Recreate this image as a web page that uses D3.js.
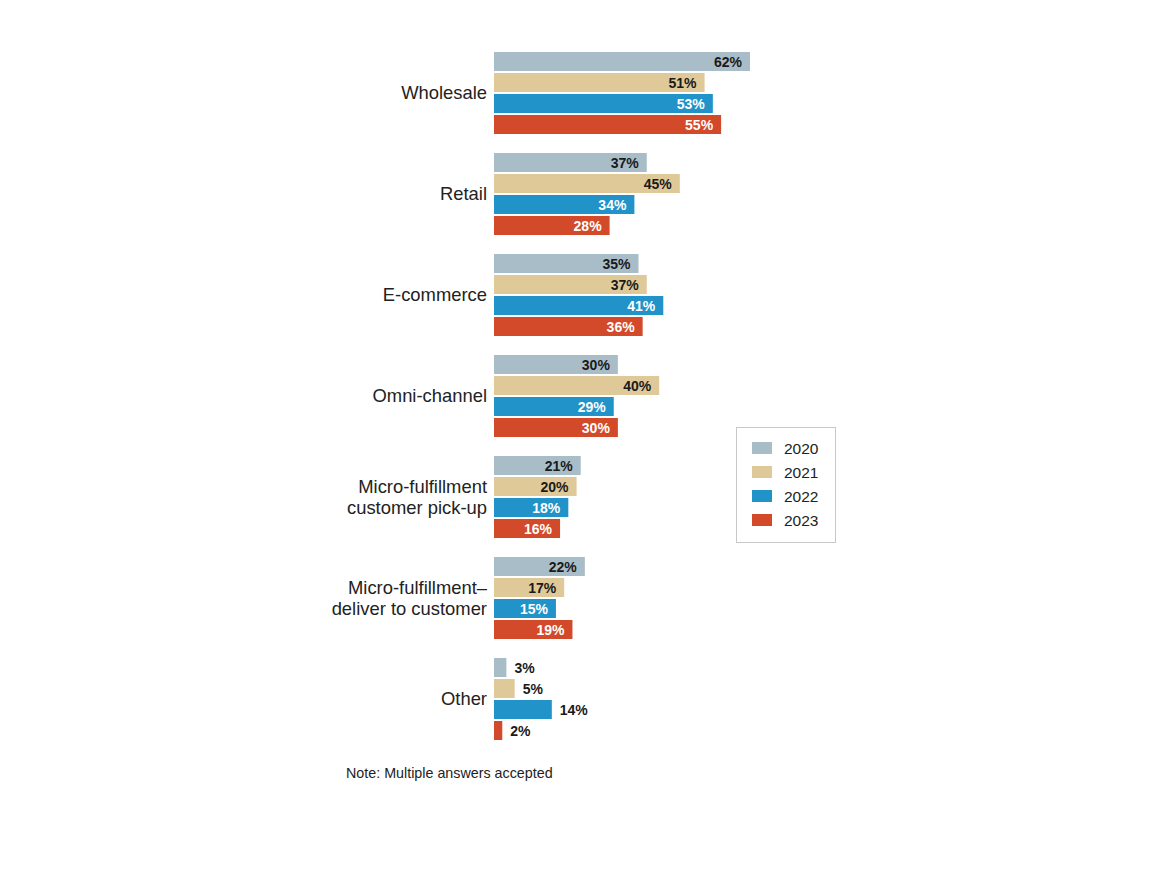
<!DOCTYPE html>
<html>
<head>
<meta charset="utf-8">
<script src="https://cdn.jsdelivr.net/npm/d3@7"></script>
<style>
  body { margin: 0; background: #fff; }
  text { font-family: "Liberation Sans", Arial, sans-serif; }
</style>
</head>
<body>
<svg id="chart" width="1160" height="887"></svg>
<script>
// chart data
const categories = [
    ["Wholesale"],
    ["Retail"],
    ["E-commerce"],
    ["Omni-channel"],
    ["Micro-fulfillment", "customer pick-up"],
    ["Micro-fulfillment\u2013", "deliver to customer"],
    ["Other"]
];
const years = ["2020", "2021", "2022", "2023"];
const values2020 = [62, 37, 35, 30, 21, 22, 3];
const values2021 = [51, 45, 37, 40, 20, 17, 5];
const values2022 = [53, 34, 41, 29, 18, 15, 14];
const values2023 = [55, 28, 36, 30, 16, 19, 2];
const seriesValues = [values2020, values2021, values2022, values2023];

const colors = ["#a9bdc8", "#dfc999", "#2193c8", "#d24a29"];
const labelColors = ["#1a1a1a", "#1a1a1a", "#ffffff", "#ffffff"];

const svg = d3.select("#chart");

const keys = categories.map(c => c.join(" "));

const y0 = d3.scaleBand()
    .domain(keys)
    .range([52, 740])
    .paddingInner(19 / 101);

const y1 = d3.scaleBand()
    .domain(years)
    .range([0, y0.bandwidth()])
    .paddingInner(2 / 21);

const x = d3.scaleLinear()
    .domain([0, 62])
    .range([494, 750]);

const rows = [];
keys.forEach((k, i) => {
    years.forEach((yr, j) => {
        rows.push({cat: k, year: yr, s: j, value: seriesValues[j][i]});
    });
});

// bars
svg.append("g")
    .selectAll("rect")
    .data(rows)
    .join("rect")
    .attr("x", x(0))
    .attr("y", d => y0(d.cat) + y1(d.year))
    .attr("width", d => x(d.value) - x(0))
    .attr("height", y1.bandwidth())
    .attr("fill", d => colors[d.s]);

// value labels (small bars get the label outside)
svg.append("g")
    .selectAll("text")
    .data(rows)
    .join("text")
    .attr("x", d => d.value < 15 ? x(d.value) + 8 : x(d.value) - 8)
    .attr("y", d => y0(d.cat) + y1(d.year) + y1.bandwidth() / 2)
    .attr("dy", "0.36em")
    .attr("text-anchor", d => d.value < 15 ? "start" : "end")
    .attr("font-size", 14)
    .attr("font-weight", "bold")
    .attr("fill", d => d.value < 15 ? "#1a1a1a" : labelColors[d.s])
    .text(d => d.value + "%");

// category labels
const catG = svg.append("g")
    .selectAll("text")
    .data(categories)
    .join("text")
    .attr("x", 487)
    .attr("y", (d, i) => y0(keys[i]) + y0.bandwidth() / 2)
    .attr("text-anchor", "end")
    .attr("font-size", 18.4)
    .attr("fill", "#222");

catG.selectAll("tspan")
    .data(d => d.map((line, i) => ({line, i, n: d.length})))
    .join("tspan")
    .attr("x", 487)
    .attr("dy", d => d.i === 0 ? (0.35 - (d.n - 1) * 0.55) + "em" : "1.1em")
    .text(d => d.line);

// legend
const legend = svg.append("g");
legend.append("rect")
    .attr("x", 736.5)
    .attr("y", 427.5)
    .attr("width", 99)
    .attr("height", 115)
    .attr("fill", "#fff")
    .attr("stroke", "#c8c8c8");

const legendY = d3.scalePoint()
    .domain(years)
    .range([448, 520]);

legend.selectAll("rect.sw")
    .data(years)
    .join("rect")
    .attr("class", "sw")
    .attr("x", 752)
    .attr("y", d => legendY(d) - 6)
    .attr("width", 20)
    .attr("height", 12)
    .attr("fill", (d, i) => colors[i]);

legend.selectAll("text")
    .data(years)
    .join("text")
    .attr("x", 784)
    .attr("y", d => legendY(d))
    .attr("dy", "0.36em")
    .attr("font-size", 15.5)
    .attr("fill", "#222")
    .text(d => d);

// note
svg.append("text")
    .attr("x", 346)
    .attr("y", 778)
    .attr("font-size", 14.3)
    .attr("fill", "#222")
    .text("Note: Multiple answers accepted");
</script>
</body>
</html>
